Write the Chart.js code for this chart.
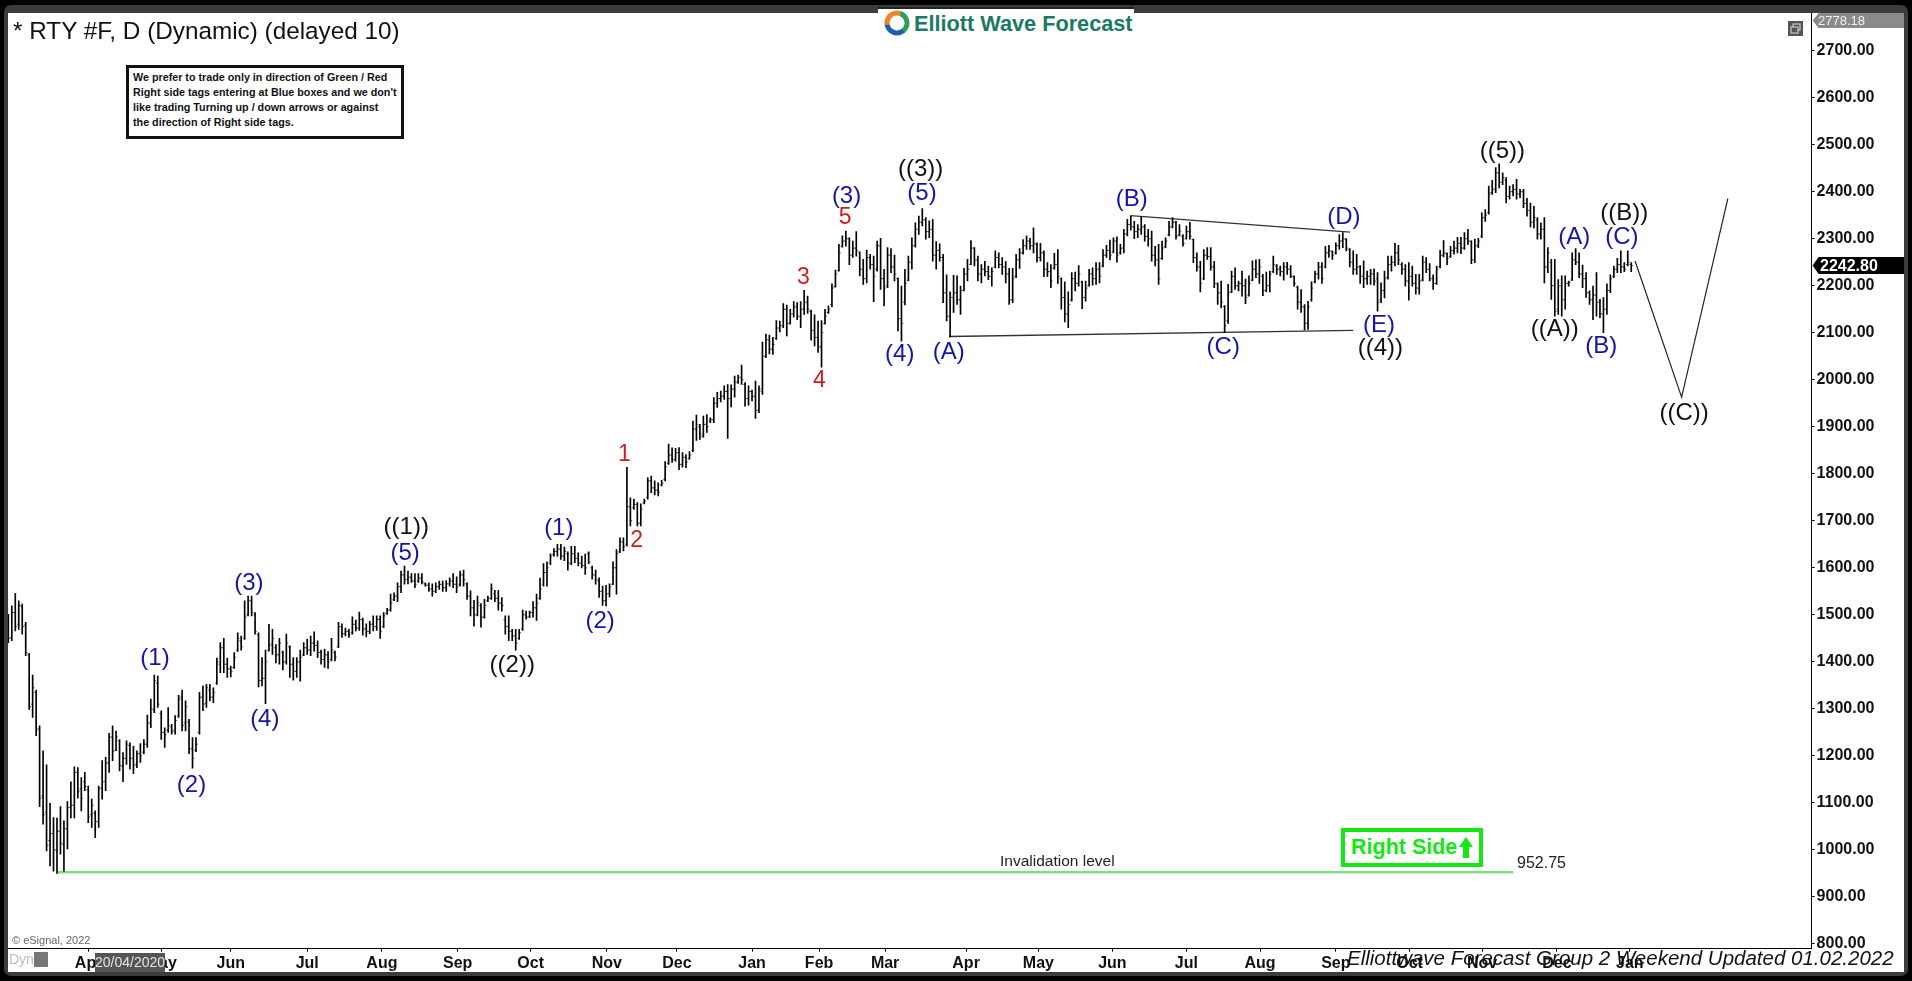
<!DOCTYPE html>
<html>
<head>
<meta charset="utf-8">
<title>RTY #F</title>
<script src="https://cdn.jsdelivr.net/npm/chart.js@4/dist/chart.umd.min.js"></script>
<style>
  html, body { margin:0; padding:0; background:#000; width:1912px; height:981px; overflow:hidden; font-family:"Liberation Sans", Arial, sans-serif; }
  #frame { position:absolute; left:4px; top:5px; width:1904px; height:971px; background:#3c3c3c; border-radius:7px; }
  #paper { position:absolute; left:8px; top:13px; width:1896px; height:959px; background:#fff; }
  canvas { position:absolute; left:0; top:0; }
  .abs { position:absolute; white-space:nowrap; }
  #title { left:13px; top:17px; font-size:24.3px; color:#111; }
  #note { left:126px; top:65px; width:268px; height:66px; border:3px solid #111; background:#fff; font-weight:bold; font-size:10.75px; line-height:15px; padding:2px 0 0 4px; color:#111; box-sizing:content-box; }
  #logo { left:878px; top:7px; width:256px; height:30px; background:#fff; border-top:2px solid #222; }
  #logoText { position:absolute; left:36px; top:2px; font-size:21.7px; font-weight:bold; color:#1a7a64; }
  #rightSide { left:1341px; top:828px; width:128px; height:31px; border:4px solid #12e812; background:#fff; color:#12e812; font-weight:bold; font-size:21.5px; line-height:31px; padding-left:6px; }
  #invalid { left:1000px; top:852px; font-size:15.5px; color:#222; }
  #level { left:1517px; top:854px; font-size:16px; color:#222; }
  #copy { left:12px; top:934px; font-size:11px; color:#666; }
  #dyn { left:9px; top:951px; font-size:14px; color:#bbb; }
  #dynIcon { left:34px; top:952px; width:14px; height:15px; background:#777; }
  #dateBox { left:95px; top:953px; width:70px; height:19px; background:#555; color:#e4e4e4; font-size:14px; line-height:19px; text-align:center; }
  #footer { left:1347px; top:946px; font-size:20.5px; font-style:italic; color:#111; }
  #restore { left:1788px; top:21px; width:15px; height:15px; background:#555; }
</style>
</head>
<body>
<div id="frame"></div>
<div id="paper"></div>
<canvas id="rtyChart" width="1912" height="981"></canvas>

<div class="abs" id="title">* RTY #F, D (Dynamic) (delayed 10)</div>
<div class="abs" id="note">We prefer to trade only in direction of Green / Red<br>Right side tags entering at Blue boxes and we don't<br>like trading Turning up / down arrows or against<br>the direction of Right side tags.</div>
<div class="abs" id="logo">
  <svg width="36" height="30" style="position:absolute;left:2px;top:0">
    <circle cx="17" cy="14" r="10" fill="none" stroke="#e8862a" stroke-width="5" stroke-dasharray="21 42" transform="rotate(170 17 14)"/>
    <circle cx="17" cy="14" r="10" fill="none" stroke="#2e9e5b" stroke-width="5" stroke-dasharray="21 42" transform="rotate(290 17 14)"/>
    <circle cx="17" cy="14" r="10" fill="none" stroke="#1d5fa8" stroke-width="5" stroke-dasharray="21 42" transform="rotate(50 17 14)"/>
  </svg>
  <div id="logoText">Elliott Wave Forecast</div>
</div>
<div class="abs" id="rightSide">Right Side<svg width="16" height="24" style="position:absolute;right:5px;top:4px"><path d="M8 1 L15 11 L11 11 L11 22 L5 22 L5 11 L1 11 Z" fill="#12e812"/></svg></div>
<div class="abs" id="invalid">Invalidation level</div>
<div class="abs" id="level">952.75</div>
<div class="abs" id="copy">© eSignal, 2022</div>
<div class="abs" id="dyn">Dyn</div>
<div class="abs" id="dynIcon"></div>
<div class="abs" id="dateBox">20/04/2020</div>
<div class="abs" id="restore"><svg width="15" height="15"><rect x="5" y="3" width="7" height="6" fill="none" stroke="#ddd"/><rect x="3" y="6" width="7" height="6" fill="#555" stroke="#ddd"/></svg></div>
<div class="abs" id="footer">Elliottwave Forecast Group 2 Weekend Updated 01.02.2022</div>

<script>
// ============================================
//  Daily bars
// ============================================
const highs = [
  1501,1519,1546,1530,1523,1484,1418,1372,1340,1264,1211,1181,1099,1069,1068,1092,1062,1103,1145,1177,
  1175,1154,1165,1136,1108,1083,1136,1190,1197,1248,1264,1253,1235,1207,1232,1228,1221,1211,1226,1235,
  1287,1321,1372,1370,1296,1260,1303,1267,1286,1329,1340,1317,1278,1239,1239,1335,1349,1352,1352,1345,
  1408,1441,1450,1408,1391,1420,1462,1455,1530,1540,1540,1505,1462,1409,1425,1480,1469,1437,1450,1423,
  1459,1434,1409,1409,1425,1441,1448,1455,1464,1445,
  1425,1427,1422,1450,1423,1484,1481,1472,1469,1496,1489,1506,1493,1481,1486,1498,1498,1498,1505,1514,
  1544,1547,1568,1593,1604,1593,1588,1588,1588,1588,1568,1568,1566,1568,1572,1572,1573,1579,1588,1581,
  1593,1595,1568,1551,1531,1540,1524,1533,1540,1566,1552,1552,1537,1498,1498,1469,1469,1469,
  1510,1508,1508,1528,1544,1578,1609,1613,1630,1641,1650,1650,1644,1634,1646,1646,1632,1625,1629,
  1634,1604,1595,1579,1561,1563,1566,1613,1639,1664,1664,1814,1749,1746,1739,1736,1746,1792,1795,1785,1781,
  1786,1826,1863,1855,1854,1856,1845,1841,1847,1912,1925,1905,
  1923,1926,1919,1962,1973,1976,1987,1990,1989,2008,2010,2031,1994,1987,1978,1997,1987,2080,2097,2095,
  2090,2126,2125,2162,2159,2150,2166,2164,2166,2190,2178,2148,2138,2125,2126,2150,2157,
  2204,2233,2288,2306,2316,2302,2295,2315,2272,2256,2276,2267,2263,2295,2301,2235,2281,2279,2265,2217,
  2199,2235,2263,2302,2334,2348,2364,2345,2338,2341,2294,2289,2267,2223,2187,2222,2221,2199,2237,2256,
  2296,2281,2263,2245,2252,2242,2238,2274,2270,2260,2252,2237,2237,2267,2279,2298,2306,2301,2323,2291,
  2290,2274,2249,2245,2269,2277,2217,2208,2187,2228,2229,2243,2210,2210,2235,2238,2249,2249,2277,2286,
  2297,2302,2304,2288,2320,2341,2348,2337,2330,2347,2330,2320,2316,2284,2288,2295,2302,2337,2345,2337,
  2330,2309,2327,2335,2299,2270,2252,2277,2281,2281,2252,2206,2210,2158,2203,
  2231,2238,2210,2231,2214,2221,2253,2255,2256,2224,2229,2231,2263,2245,2242,2249,2250,2243,2221,2199,
  2192,2160,2167,2208,2231,2250,2249,2284,2286,2274,2291,2309,2313,2300,2279,2274,2267,2243,2253,2231,
  2235,2236,2228,2206,2231,2263,2263,2290,2286,2249,2245,2249,2242,2224,2224,2263,2260,
  2247,2223,2242,2275,2296,2270,2284,2295,2303,2303,2313,2320,2296,2299,2301,2355,2362,2412,2424,2451,
  2459,2440,2430,2412,2415,2426,2405,2405,2386,2376,2369,2345,2334,2345,2281,2256,2256,2213,2221,2221,
  2210,2270,2279,2270,2244,2228,2189,2199,2228,2171,2175,2204,2223,2242,2258,2274,2249,2274,2249
];
const lows = [
  1441,1445,1466,1469,1459,1413,1299,1282,1243,1092,1055,998,966,955,950,991,955,1002,1068,1068,
  1110,1083,1126,1058,1048,1026,1048,1108,1126,1165,1190,1211,1168,1145,1182,1172,1162,1175,1186,1204,
  1218,1260,1292,1303,1235,1218,1250,1246,1246,1282,1253,1253,1205,1174,1209,1246,1296,1303,1317,1313,
  1352,1377,1377,1367,1368,1386,1422,1425,1448,1498,1498,1459,1347,1349,1311,1423,1416,1398,1395,1383,
  1395,1367,1361,1367,1359,1413,1416,1413,1423,1409,
  1395,1388,1386,1402,1402,1430,1452,1455,1452,1459,1466,1467,1457,1453,1460,1466,1467,1450,1473,1501,
  1508,1530,1528,1547,1565,1566,1569,1558,1569,1566,1561,1550,1540,1547,1554,1550,1550,1561,1558,1547,
  1561,1561,1533,1498,1476,1498,1474,1493,1528,1533,1528,1510,1508,1459,1445,1445,1425,1448,
  1467,1491,1494,1495,1488,1533,1561,1561,1607,1625,1625,1618,1615,1595,1607,1611,1604,1600,1586,
  1609,1576,1565,1537,1520,1519,1538,1564,1544,1632,1636,1646,1689,1724,1689,1689,1736,1746,1760,1755,1753,
  1774,1785,1820,1824,1827,1809,1814,1813,1831,1847,1871,1873,
  1878,1888,1909,1909,1941,1953,1958,1875,1942,1963,1992,1990,1944,1946,1955,1918,1930,1969,2047,2055,
  2054,2086,2102,2111,2093,2118,2133,2128,2111,2139,2141,2084,2072,2058,2027,2118,2141,
  2155,2197,2231,2282,2284,2245,2260,2263,2221,2203,2206,2235,2166,2231,2192,2157,2196,2228,2210,2104,
  2082,2159,2210,2235,2282,2309,2327,2299,2302,2252,2235,2252,2164,2125,2091,2143,2160,2139,2189,2210,
  2245,2242,2210,2206,2221,2213,2199,2238,2238,2224,2206,2160,2164,2217,2237,2267,2277,2277,2270,2250,
  2252,2219,2219,2196,2235,2205,2150,2123,2111,2167,2189,2199,2151,2167,2199,2201,2203,2206,2240,2260,
  2255,2270,2250,2267,2270,2306,2318,2300,2302,2309,2295,2284,2252,2242,2203,2256,2281,2306,2323,2299,
  2306,2284,2299,2299,2249,2231,2187,2213,2256,2233,2196,2160,2153,2100,2120,
  2185,2192,2189,2178,2162,2178,2210,2217,2205,2179,2187,2187,2228,2224,2221,2212,2224,2217,2199,2150,
  2143,2106,2107,2167,2206,2214,2205,2238,2260,2256,2267,2277,2281,2274,2240,2224,2224,2205,2196,2203,
  2203,2201,2146,2164,2174,2214,2231,2242,2245,2224,2199,2169,2199,2182,2182,2210,2228,
  2210,2192,2203,2238,2261,2245,2260,2267,2270,2268,2277,2288,2247,2249,2281,2302,2337,2352,2394,2398,
  2408,2415,2376,2384,2391,2384,2387,2366,2348,2325,2323,2299,2299,2206,2228,2171,2135,2139,2135,2150,
  2199,2211,2245,2217,2196,2175,2160,2128,2135,2132,2100,2139,2185,2217,2228,2228,2230,2242,2230
];
const opens = [
  1490,1452,1505,1480,1518,1478,1415,1310,1335,1258,1115,1080,1020,1035,1000,1040,1012,1045,1090,1095,
  1165,1130,1145,1128,1075,1078,1060,1132,1146,1185,1240,1212,1232,1178,1195,1222,1195,1182,1204,1208,
  1225,1270,1298,1355,1290,1250,1255,1262,1255,1285,1325,1270,1272,1215,1212,1250,1325,1312,1340,1325,
  1355,1395,1430,1395,1385,1388,1425,1445,1450,1500,1530,1500,1458,1360,1365,1425,1438,1430,1415,1420,
  1400,1432,1395,1380,1400,1415,1430,1425,1440,1435,
  1420,1405,1415,1405,1420,1432,1475,1460,1465,1462,1480,1472,1490,1470,1465,1480,1475,1490,1475,1503,
  1510,1532,1540,1560,1585,1575,1580,1572,1572,1578,1566,1563,1555,1550,1560,1565,1558,1566,1572,1565,
  1565,1585,1566,1540,1515,1500,1520,1495,1530,1535,1545,1535,1525,1490,1475,1465,1455,1450,
  1470,1500,1496,1505,1515,1535,1565,1590,1610,1628,1635,1640,1625,1630,1610,1630,1620,1610,1605,
  1630,1600,1585,1572,1550,1530,1545,1565,1600,1634,1655,1650,1730,1728,1735,1695,1738,1750,1785,1770,1765,
  1776,1788,1822,1840,1830,1845,1820,1835,1832,1850,1895,1900,
  1880,1905,1912,1915,1950,1960,1965,1975,1960,1980,1995,2005,1990,1960,1975,1965,1935,1975,2050,2085,
  2065,2088,2110,2115,2150,2120,2140,2155,2135,2150,2165,2145,2105,2090,2070,2120,2143,
  2160,2198,2232,2284,2295,2300,2265,2280,2270,2235,2215,2260,2245,2235,2285,2215,2200,2265,2240,2215,
  2130,2165,2212,2250,2285,2320,2335,2340,2315,2320,2265,2275,2260,2185,2135,2175,2185,2170,2190,2225,
  2245,2280,2255,2225,2235,2230,2220,2240,2260,2245,2240,2225,2170,2220,2255,2270,2285,2295,2285,2288,
  2260,2270,2235,2230,2237,2245,2215,2175,2140,2170,2215,2205,2208,2175,2200,2225,2215,2235,2242,2265,
  2275,2272,2295,2270,2280,2310,2330,2325,2315,2320,2325,2305,2300,2265,2255,2258,2283,2308,2325,2335,
  2308,2305,2300,2315,2298,2260,2240,2215,2265,2262,2240,2204,2185,2156,2125,
  2187,2220,2200,2205,2200,2180,2212,2235,2225,2220,2190,2200,2230,2242,2235,2230,2240,2235,2219,2197,
  2165,2155,2120,2170,2208,2225,2240,2240,2270,2272,2270,2285,2295,2298,2277,2250,2235,2240,2220,2215,
  2220,2225,2215,2170,2190,2218,2245,2250,2270,2245,2235,2210,2220,2205,2195,2212,2250,
  2235,2215,2205,2240,2265,2268,2262,2275,2280,2290,2280,2300,2294,2255,2285,2305,2345,2355,2398,2405,
  2440,2420,2425,2390,2400,2405,2395,2400,2375,2360,2335,2340,2310,2320,2240,2250,2200,2150,2200,2170,
  2205,2212,2255,2250,2225,2215,2185,2170,2180,2165,2140,2150,2190,2220,2235,2245,2240,2245,2245
];
const closes = [
  1450,1505,1475,1520,1475,1420,1305,1345,1255,1110,1075,1010,1035,1000,1040,1015,1045,1090,1095,1165,
  1125,1110,1135,1070,1095,1060,1130,1145,1185,1240,1210,1240,1180,1195,1225,1195,1180,1205,1200,1225,
  1270,1300,1360,1310,1250,1245,1265,1252,1275,1320,1265,1305,1215,1195,1225,1325,1310,1345,1325,1335,
  1400,1430,1395,1385,1380,1410,1450,1432,1495,1530,1505,1465,1360,1365,1400,1435,1450,1415,1440,1400,
  1440,1395,1380,1400,1410,1430,1425,1440,1435,1420,
  1405,1415,1400,1425,1410,1475,1460,1465,1458,1480,1472,1490,1470,1465,1480,1475,1490,1465,1498,1510,
  1525,1540,1560,1585,1575,1580,1572,1565,1578,1570,1563,1555,1550,1560,1565,1558,1566,1572,1565,1560,
  1585,1575,1540,1515,1500,1525,1495,1520,1535,1555,1535,1525,1520,1475,1465,1455,1440,1462,
  1500,1495,1505,1515,1525,1555,1590,1600,1625,1635,1640,1625,1635,1610,1630,1620,1610,1605,1600,
  1612,1585,1575,1550,1530,1545,1560,1600,1630,1655,1645,1730,1700,1735,1695,1725,1742,1785,1770,1765,1760,
  1780,1815,1840,1830,1845,1820,1835,1825,1840,1895,1905,1885,
  1905,1900,1915,1950,1960,1965,1975,1960,1980,1995,2005,2000,1960,1975,1965,1935,1980,2050,2085,2065,
  2075,2110,2115,2150,2120,2140,2155,2135,2150,2165,2150,2105,2090,2070,2100,2135,2150,
  2195,2225,2270,2295,2300,2265,2280,2275,2235,2215,2260,2245,2220,2285,2215,2195,2265,2240,2225,2130,
  2120,2205,2250,2285,2320,2335,2340,2315,2320,2265,2275,2260,2185,2135,2175,2185,2170,2190,2225,2235,
  2280,2255,2225,2235,2230,2220,2230,2260,2245,2240,2225,2170,2215,2255,2270,2285,2295,2285,2290,2260,
  2270,2235,2230,2210,2245,2220,2175,2140,2160,2215,2205,2225,2175,2195,2225,2215,2235,2220,2265,2275,
  2265,2295,2265,2280,2310,2330,2325,2315,2320,2325,2305,2300,2265,2255,2215,2280,2295,2325,2335,2305,
  2315,2290,2315,2305,2260,2240,2205,2265,2262,2240,2205,2185,2165,2115,2185,
  2220,2200,2205,2200,2175,2205,2235,2225,2240,2190,2200,2225,2245,2235,2230,2240,2235,2220,2205,2165,
  2155,2120,2155,2195,2225,2240,2215,2270,2275,2265,2285,2295,2300,2280,2250,2235,2240,2220,2215,2220,
  2225,2210,2165,2190,2215,2245,2250,2270,2255,2235,2210,2220,2205,2195,2210,2250,2235,
  2215,2205,2235,2265,2270,2258,2275,2280,2290,2280,2300,2295,2255,2285,2295,2345,2350,2395,2405,2440,
  2420,2430,2390,2400,2405,2395,2400,2375,2360,2335,2345,2310,2320,2240,2270,2200,2145,2200,2170,2205,
  2207,2255,2250,2225,2215,2185,2170,2180,2165,2140,2150,2190,2215,2235,2245,2240,2235,2250,2243
];

// axis ticks
const priceTicks = [800,900,1000,1100,1200,1300,1400,1500,1600,1700,1800,1900,2000,2100,2200,2300,2400,2500,2600,2700];
const monthTicks = [23.1,44,64,86,107.5,129.3,150.3,172.2,192.4,214,233.3,252.3,275.6,296.4,317.7,339,360.2,382,403.2,424.1,445.6,466.6];
const monthNames = ['Apr','May','Jun','Jul','Aug','Sep','Oct','Nov','Dec','Jan','Feb','Mar','Apr','May','Jun','Jul','Aug','Sep','Oct','Nov','Dec','Jan'];

// trend lines, bar index / price
const triangleTop = [[322.9,2349],[386.1,2314]];
const triangleBase = [[270.7,2092],[387,2105]];
const forecastPath = [[468.1,2252.5],[481.5,1963],[494.8,2385]];
const invalidation = [[14,952.75],[433,952.75]];

// wave labels: text, bar index, price
const blackWaves = [['((3))',262.5,2447],['((1))',114.5,1685],['((2))',145,1392],['((5))',429.9,2486],['((B))',465,2354],['((A))',445,2108],['((4))',394.8,2066],['((C))',482.2,1929]];
const blueWaves = [['(3)',241.2,2390],['(5)',262.9,2396],['(B)',323.3,2383],['(D)',384.3,2346],['(A)',450.6,2302],['(C)',464.3,2302],['(E)',394.4,2116],['(A)',270.6,2059],['(4)',256.5,2053],['(C)',349.6,2069],['(B)',458.4,2071],['(5)',114.2,1631],['(1)',158.4,1683],['(2)',170.3,1486],['(3)',69.2,1566],['(1)',42.2,1408],['(2)',52.7,1138],['(4)',73.8,1278]];
const redWaves = [['5',240.8,2344],['3',228.8,2217],['4',233.4,1999],['1',177.3,1841],['2',180.8,1657]];

const lastPrice = 2242.80;
const topPrice = 2778.18;

// ============================================
//  Chart
// ============================================
const toPts = arr => arr.map(p => ({ x:p[0], y:p[1] }));
const trend = (pts, color, width) => ({ type:'line', data:toPts(pts), borderColor:color, borderWidth:width, pointRadius:0, tension:0, order:3 });

const waveLabels = {
  id: 'waveLabels',
  afterDatasetsDraw(chart) {
    const { ctx, scales:{ x, y } } = chart;
    const put = (list, color, font) => {
      ctx.fillStyle = color; ctx.font = font; ctx.textAlign = 'center'; ctx.textBaseline = 'middle';
      list.forEach(l => ctx.fillText(l[0], x.getPixelForValue(l[1]), y.getPixelForValue(l[2])));
    };
    ctx.save();
    put(blackWaves, '#111', '24px "Liberation Sans"');
    put(blueWaves, '#1515a5', '24px "Liberation Sans"');
    put(redWaves, '#d01c1c', '23px "Liberation Sans"');
    // price flags on the right axis
    const flag = (val, h, bg, fg, font, tx) => {
      const py = Math.max(y.getPixelForValue(val), 13 + h / 2);
      const lx = x.right + 1;
      ctx.fillStyle = bg;
      ctx.beginPath();
      ctx.moveTo(lx, py); ctx.lineTo(lx + 6, py - h / 2); ctx.lineTo(1904, py - h / 2);
      ctx.lineTo(1904, py + h / 2); ctx.lineTo(lx + 6, py + h / 2); ctx.closePath(); ctx.fill();
      ctx.fillStyle = fg; ctx.font = font; ctx.textAlign = 'left'; ctx.textBaseline = 'middle';
      ctx.fillText(val.toFixed(2), tx, py + 1);
    };
    flag(topPrice, 15, '#8a8a8a', '#f2f2f2', '13px "Liberation Sans"', 1818);
    flag(lastPrice, 17, '#000', '#fff', 'bold 16px "Liberation Sans"', 1820);
    ctx.restore();
  }
};

new Chart(document.getElementById('rtyChart'), {
  type: 'bar',
  plugins: [waveLabels],
  data: {
    datasets: [
      { type:'bar', data:highs.map((h, i) => ({ x:i, y:[lows[i], h] })), backgroundColor:'#000', barThickness:1, order:2 },
      { type:'scatter', data:opens.map((v, i) => ({ x:i - 0.26, y:v })), pointStyle:'line', pointRadius:0.9, pointBorderWidth:0.7, pointBorderColor:'#000', order:1 },
      { type:'scatter', data:closes.map((v, i) => ({ x:i + 0.26, y:v })), pointStyle:'line', pointRadius:0.9, pointBorderWidth:0.7, pointBorderColor:'#000', order:1 },
      trend(triangleTop, '#333', 1.4),
      trend(triangleBase, '#333', 1.4),
      trend(forecastPath, '#222', 1.2),
      trend(invalidation, '#7fe07f', 2.5)
    ]
  },
  options: {
    responsive: false,
    animation: false,
    events: [],
    layout: { padding: { left:8, top:13, right:8, bottom:9 } },
    plugins: { legend: { display:false }, tooltip: { enabled:false }, title: { display:false } },
    scales: {
      x: {
        type: 'linear', offset: false, min: -0.095, max: 518.9,
        grid: { drawOnChartArea:false, drawTicks:true, tickLength:3, color:'#000', offset:false },
        border: { display:true, color:'#000', width:1 },
        afterBuildTicks: s => { s.ticks = monthTicks.map(v => ({ value:v })); },
        afterFit: s => { s.height = 23.3; },
        ticks: {
          autoSkip:false, maxRotation:0, padding:2, color:'#111',
          font: { family:'"Liberation Sans"', size:16, weight:'bold' },
          callback: (v) => monthNames[monthTicks.indexOf(v)]
        }
      },
      y: {
        position: 'right', min: 790, max: 2780,
        grid: { drawOnChartArea:false, drawTicks:true, tickLength:3, color:'#000' },
        border: { display:true, color:'#000', width:1 },
        afterBuildTicks: s => { s.ticks = priceTicks.map(v => ({ value:v })); },
        afterFit: s => { s.width = 92.4; },
        ticks: {
          padding:2, color:'#111',
          font: { family:'"Liberation Sans"', size:16, weight:'bold' },
          callback: v => Number(v).toFixed(2)
        }
      }
    }
  }
});
</script>
</body>
</html>
